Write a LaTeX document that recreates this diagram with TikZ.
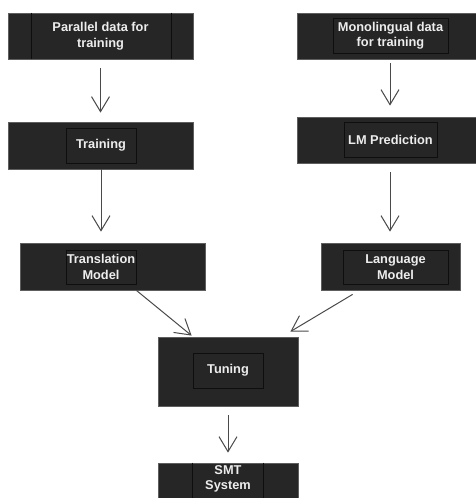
\documentclass[tikz,border=0pt]{standalone}
\usepackage{fontspec}
\setmainfont{Liberation Sans}
\usetikzlibrary{arrows.meta,calc}
\definecolor{boxfill}{HTML}{262626}
\definecolor{boxedge}{HTML}{5E5E5E}
\definecolor{inedge}{HTML}{0E0E0E}
\definecolor{arr}{HTML}{4A4A4A}
\definecolor{txt}{HTML}{EDEDED}
\begin{document}
\begin{tikzpicture}[x=1pt,y=-1pt,
  outerbox/.style={draw=boxedge,fill=boxfill,line width=0.8pt,inner sep=0pt,minimum width=#1},
  innerbox/.style={draw=inedge,line width=0.8pt,inner sep=0pt,minimum width=#1},
  lbl/.style={text=txt,font=\bfseries\fontsize{12.8}{15.5}\selectfont,align=center,inner sep=0pt},
  flow/.style={draw=arr,line width=1pt,-{Straight Barb[length=15pt,width=18pt,line width=1pt]}}]
\clip (0,0) rectangle (476,498);
\useasboundingbox (0,0) rectangle (476,498);
\fill[white] (0,0) rectangle (476,498);
% Parallel data
\node[outerbox=185pt,minimum height=46pt] (par) at (100.5,36) {};
\draw[inedge,line width=0.8pt] ($(par.north west)+(24,0)$) -- ($(par.south west)+(24,0)$);
\draw[inedge,line width=0.8pt] ($(par.north east)+(-22,0)$) -- ($(par.south east)+(-22,0)$);
\node[lbl] (partxt) at (100.5,36) {Parallel data for\\training};
% Training
\node[outerbox=185pt,minimum height=47pt] (train) at (100.5,145.5) {};
\node[innerbox=70pt,minimum height=35pt,lbl] (traini) at (101,145.5) {Training};
% Translation model
\node[outerbox=185pt,minimum height=47pt] (tm) at (112.5,266.5) {};
\node[innerbox=70pt,minimum height=34pt,lbl] (tmi) at (101,267) {Translation\\Model};
% Monolingual
\node[outerbox=186pt,minimum height=46pt] (mono) at (390,36) {};
\node[innerbox=115pt,minimum height=35pt,lbl] (monoi) at (390.5,35.5) {Monolingual data\\for training};
% LM prediction
\node[outerbox=186pt,minimum height=46pt] (lmp) at (390,140) {};
\node[innerbox=93pt,minimum height=35pt,lbl] (lmpi) at (390.5,139.5) {LM Prediction};
% Language model
\node[outerbox=139pt,minimum height=47pt] (lm) at (390.5,266.5) {};
\node[innerbox=105pt,minimum height=34pt,lbl] (lmi) at (395.5,267) {Language\\Model};
% Tuning
\node[outerbox=140pt,minimum height=69pt] (tune) at (228,371.5) {};
\node[innerbox=70pt,minimum height=35pt,lbl] (tunei) at (228,370.5) {Tuning};
% SMT system
\node[outerbox=140pt,minimum height=47pt] (smt) at (228,486.5) {};
\draw[inedge,line width=0.8pt] ($(smt.north west)+(35,0)$) -- ($(smt.south west)+(35,0)$);
\draw[inedge,line width=0.8pt] ($(smt.north east)+(-35,0)$) -- ($(smt.south east)+(-35,0)$);
\node[lbl] (smttxt) at (228,479) {SMT\\System};
% connectors
\draw[flow,shorten <=9pt,shorten >=9pt] (par.south -| partxt) -- (train.north -| partxt);
\draw[flow,shorten >=11pt] (train.south -| traini) -- (tm.north -| traini);
\draw[flow,shorten <=4pt,shorten >=11pt] (mono.south) -- (lmp.north);
\draw[flow,shorten <=9pt,shorten >=11pt] (lmp.south) -- (lm.north -| lmp.south);
\draw[flow] (tmi.east |- tm.south) -- ($(tunei.west |- tune.north)+(-1,-1)$);
\draw[flow] ($(lmi.west |- lm.south)+(10,4)$) -- ($(tune.north east)+(-8,-5)$);
\draw[flow,shorten <=9pt,shorten >=10pt] (tune.south) -- (smt.north);
\end{tikzpicture}
\end{document}
